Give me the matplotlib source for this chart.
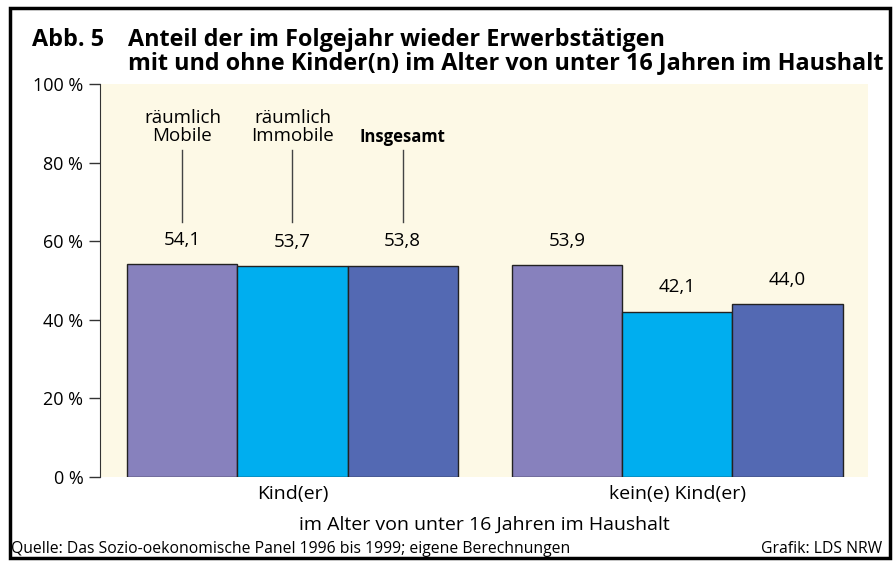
import matplotlib.pyplot as plt
import matplotlib.patches as patches
import numpy as np

plt.rcParams['font.family'] = ['Open Sans', 'DejaVu Sans']

groups = ['Kind(er)', 'kein(e) Kind(er)']
series = ['räumlich\nMobile', 'räumlich\nImmobile', 'Insgesamt']
mobile = [54.1, 53.9]
immobile = [53.7, 42.1]
insgesamt = [53.8, 44.0]
colors = ['#8781bd', '#00aeef', '#5369b3']
yticks = [0, 20, 40, 60, 80, 100]

fig = plt.figure(figsize=(8.96, 5.62), dpi=100)
ax = fig.add_axes([100 / 896, 1 - 477 / 562, 768 / 896, 393 / 562])
ax.set_facecolor('#fdf9e6')

x = np.arange(len(groups))
w = 0.286
for i, vals in enumerate([mobile, immobile, insgesamt]):
    pos = x + (i - 1) * w
    bars = ax.bar(pos, vals, w, color=colors[i], edgecolor='#222222', linewidth=1.0)
    for b, v in zip(bars, vals):
        ax.annotate(f'{v:.1f}'.replace('.', ','), (b.get_x() + w / 2, v),
                    xytext=(0, 17.5), textcoords='offset points',
                    ha='center', va='center', fontsize=13.5)

# series labels above the first group
for i, lab in enumerate(series):
    xc = x[0] + (i - 1) * w
    ax.plot([xc, xc], [65.0, 83.2], color='#444444', linewidth=1)
    if i < 2:
        ax.text(xc, 89.0, lab, ha='center', va='center', fontsize=13.5, linespacing=1.0)
    else:
        ax.text(xc, 86.5, lab, ha='center', va='center', fontsize=12, fontweight='bold')

ax.set_xlim(-0.5, 1.495)
ax.set_ylim(0, 100)
ax.set_yticks(yticks)
ax.set_yticklabels([f'{t} %' for t in yticks], fontsize=13)
ax.tick_params(axis='y', direction='out', length=8, width=1, color='#333333', pad=4)
ax.set_xticks(x)
ax.set_xticklabels(groups, fontsize=14)
ax.tick_params(axis='x', length=0, pad=6)
ax.set_xlabel('im Alter von unter 16 Jahren im Haushalt', fontsize=14, labelpad=9)
for s in ['top', 'right', 'bottom']:
    ax.spines[s].set_visible(False)
ax.spines['left'].set_color('#333333')

# outer frame
fig.patches.append(patches.Rectangle((10 / 896, 4 / 562), 880 / 896, 550 / 562,
                                     transform=fig.transFigure, fill=False,
                                     edgecolor='black', linewidth=2.5))

fig.text(32 / 896, 1 - 40 / 562, 'Abb. 5', fontsize=16.8, fontweight='bold', va='center')
fig.text(128 / 896, 1 - 40 / 562, 'Anteil der im Folgejahr wieder Erwerbstätigen',
         fontsize=16.8, fontweight='bold', va='center')
fig.text(128 / 896, 1 - 63 / 562, 'mit und ohne Kinder(n) im Alter von unter 16 Jahren im Haushalt',
         fontsize=16.8, fontweight='bold', va='center')

fig.text(11 / 896, 1 - 549 / 562, 'Quelle: Das Sozio-oekonomische Panel 1996 bis 1999; eigene Berechnungen',
         fontsize=11.3, va='center')
fig.text(882 / 896, 1 - 549 / 562, 'Grafik: LDS NRW', fontsize=11.3, va='center', ha='right')

fig.savefig('out.png', dpi=100)
